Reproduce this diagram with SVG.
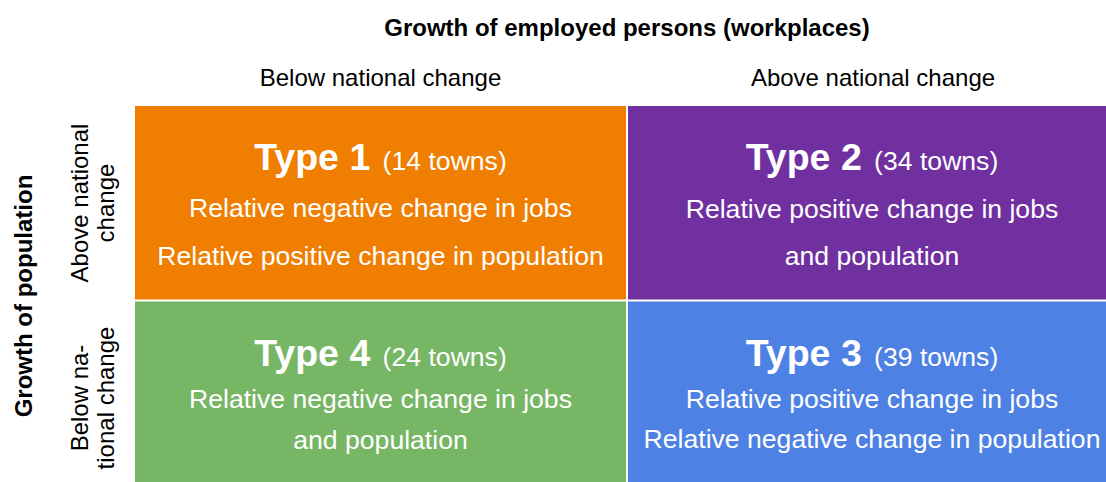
<svg xmlns="http://www.w3.org/2000/svg" width="1106" height="482" viewBox="0 0 1106 482">
<style>
text{font-family:"Liberation Sans",Arial,sans-serif;}
.hdr{font-size:24px;font-weight:bold;fill:#000;text-anchor:middle;}
.lab{font-size:24px;fill:#000;text-anchor:middle;}
.ttl{font-size:37.5px;font-weight:bold;fill:#fff;}
.cnt{font-size:26.6px;font-weight:normal;fill:#fff;}
.desc{font-size:26.6px;fill:#fff;text-anchor:middle;}
</style>
<rect width="1106" height="482" fill="#ffffff"/>
<g id="headers">
<text class="hdr" x="627" y="36">Growth of employed persons (workplaces)</text>
<text class="lab" x="380.5" y="86">Below national change</text>
<text class="lab" x="873" y="86">Above national change</text>
<text class="hdr" transform="translate(32,296) rotate(-90)">Growth of population</text>
<text class="lab" transform="translate(88,203) rotate(-90)">Above national</text>
<text class="lab" transform="translate(114,203) rotate(-90)">change</text>
<text class="lab" transform="translate(88,398) rotate(-90)">Below na-</text>
<text class="lab" transform="translate(114,398) rotate(-90)">tional change</text>
</g>
<g id="type1">
<rect x="135" y="106" width="491" height="193.5" fill="#F07E00"/>
<text x="380.5" y="170" text-anchor="middle"><tspan class="ttl">Type 1</tspan><tspan class="cnt" dx="5"> (14 towns)</tspan></text>
<text class="desc" x="380.5" y="217">Relative negative change in jobs</text>
<text class="desc" x="380.5" y="265">Relative positive change in population</text>
</g>
<g id="type2">
<rect x="628" y="106" width="478" height="193.5" fill="#7030A0"/>
<text x="872" y="170" text-anchor="middle"><tspan class="ttl">Type 2</tspan><tspan class="cnt" dx="5"> (34 towns)</tspan></text>
<text class="desc" x="872" y="218">Relative positive change in jobs</text>
<text class="desc" x="872" y="265">and population</text>
</g>
<g id="type4">
<rect x="135" y="301.5" width="491" height="180.5" fill="#77B665"/>
<text x="380.5" y="366" text-anchor="middle"><tspan class="ttl">Type 4</tspan><tspan class="cnt" dx="5"> (24 towns)</tspan></text>
<text class="desc" x="380.5" y="408">Relative negative change in jobs</text>
<text class="desc" x="380.5" y="449">and population</text>
</g>
<g id="type3">
<rect x="628" y="301.5" width="478" height="180.5" fill="#4E81E4"/>
<text x="872" y="366" text-anchor="middle"><tspan class="ttl">Type 3</tspan><tspan class="cnt" dx="5"> (39 towns)</tspan></text>
<text class="desc" x="872" y="408">Relative positive change in jobs</text>
<text class="desc" x="872" y="448">Relative negative change in population</text>
</g>
<g id="connectors"></g>
</svg>
